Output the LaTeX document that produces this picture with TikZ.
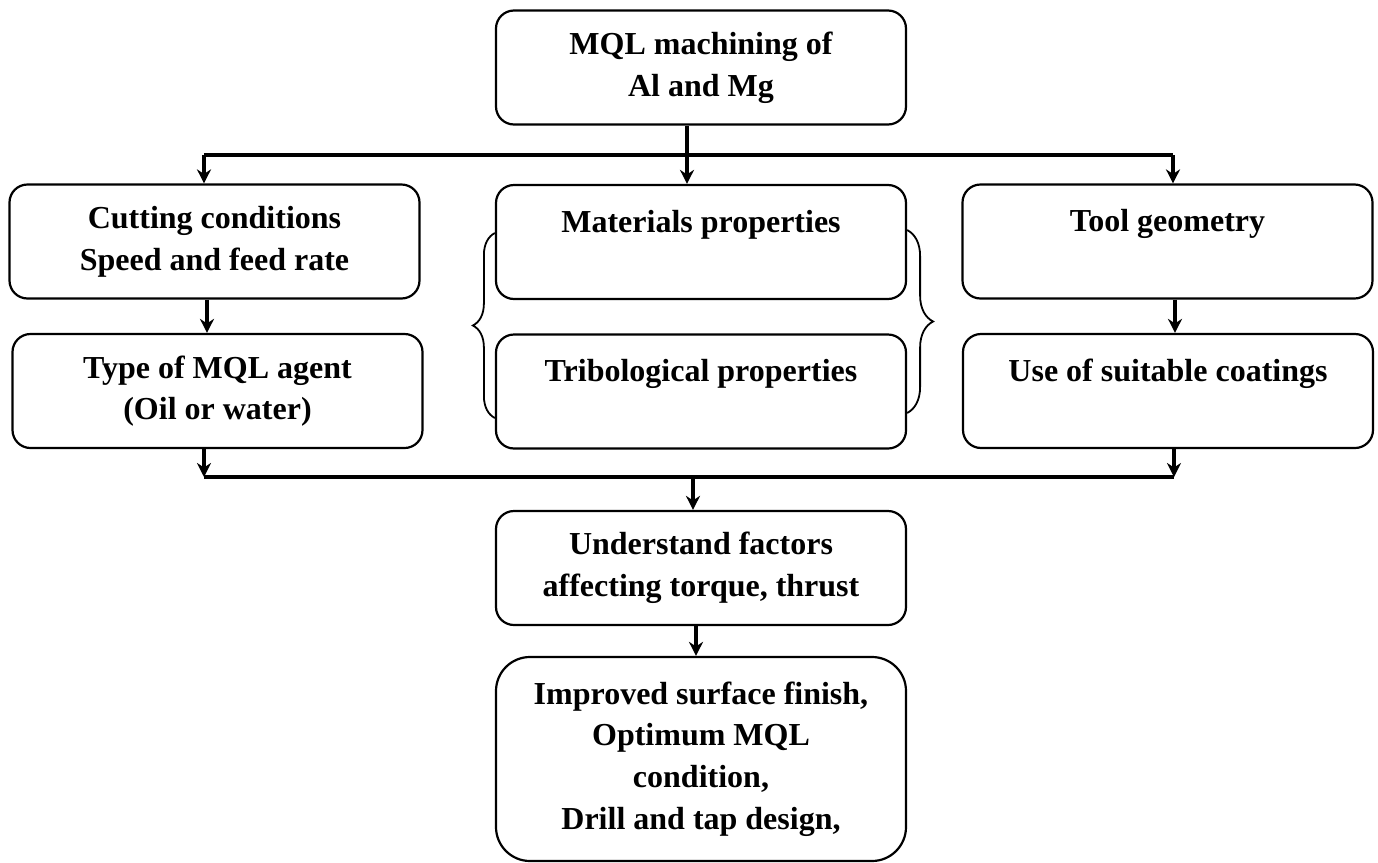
\documentclass[tikz,border=0pt]{standalone}
\usepackage{fontspec}
\setmainfont{Liberation Serif}
\usetikzlibrary{arrows.meta,decorations.pathreplacing}
\begin{document}
\begin{tikzpicture}[
    x=0.5pt, y=-0.5pt,
    box/.style={rectangle, draw, line width=1.1pt, rounded corners=9pt, minimum width=205pt, minimum height=57pt, inner sep=0pt, align=center, font=\fontsize{16}{20.8}\selectfont\bfseries},
    bigbox/.style={box, minimum height=102pt, rounded corners=17pt},
    link/.style={line width=1.6pt},
    arr/.style={link, -{Stealth[length=7pt, width=7pt]}},
    curly/.style={decorate, line width=0.9pt}
]
\useasboundingbox (0,0) rectangle (1378,863);

\node[box] (top) at (701,67.5) {MQL machining of\\Al and Mg};
\node[box] (cut) at (214.5,241.5) {Cutting conditions\\Speed and feed rate};
\node[box] (mat) at (701,242) {Materials properties\\\mbox{}};
\node[box] (tool) at (1167.5,241.5) {Tool geometry\\\mbox{}};
\node[box] (type) at (217.5,391) {Type of MQL agent\\(Oil or water)};
\node[box] (trib) at (701,391.5) {Tribological properties\\\mbox{}};
\node[box] (use) at (1168,391) {Use of suitable coatings\\\mbox{}};
\node[box] (und) at (701,568) {Understand factors\\affecting torque, thrust};
\node[bigbox] (imp) at (701,759) {Improved surface finish,\\Optimum MQL\\condition,\\Drill and tap design,};

\coordinate (split) at (687,155);
\coordinate (splitL) at (204,155);
\coordinate (splitR) at (1173,155);
\draw[link] (split |- top.south) -- (split);
\draw[link] (splitL) -- (splitR);
\draw[arr] (splitL) -- (splitL |- cut.north);
\draw[arr] (split) -- (split |- mat.north);
\draw[arr] (splitR) -- (splitR |- tool.north);

\draw[arr] ([xshift=-3.75pt]cut.south) -- ([xshift=-3.75pt]cut.south |- type.north);
\draw[arr] ([xshift=3.75pt]tool.south) -- ([xshift=3.75pt]tool.south |- use.north);

\draw[curly, decoration={brace, amplitude=11pt}] ([yshift=-13.25pt]trib.west) -- ([yshift=4.5pt]mat.west);
\draw[curly, decoration={brace, amplitude=13pt}] ([yshift=6pt]mat.east) -- ([yshift=-10.75pt]trib.east);

\coordinate (join) at (693,477);
\coordinate (joinL) at (204,477);
\coordinate (joinR) at (1174,477);
\draw[arr] (joinL |- type.south) -- (joinL);
\draw[arr] (joinR |- use.south) -- (joinR);
\draw[link] (joinL) -- (joinR);
\draw[arr] (join) -- (join |- und.north);
\draw[arr] ([xshift=-2.5pt]und.south) -- ([xshift=-2.5pt]imp.north);
\end{tikzpicture}
\end{document}
